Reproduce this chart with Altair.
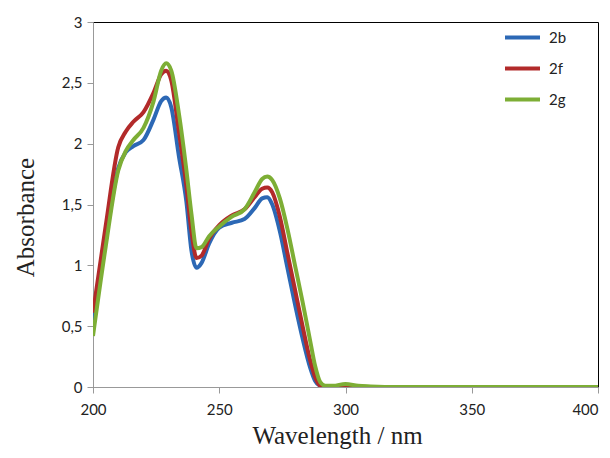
import altair as alt
import pandas as pd

wavelength = [200, 205, 210, 213, 216, 220, 224, 227, 229, 231, 234, 237, 239, 241, 243, 246, 250, 255, 260, 264, 267, 269, 271, 274, 277, 280, 283, 286, 288, 290, 292, 295, 300, 305, 310, 320, 350, 400]

abs_2b = [0.55, 1.20, 1.80, 1.93, 1.98, 2.03, 2.20, 2.35, 2.38, 2.30, 1.90, 1.52, 1.12, 0.98, 1.02, 1.18, 1.31, 1.35, 1.38, 1.47, 1.55, 1.56, 1.50, 1.28, 0.98, 0.68, 0.40, 0.16, 0.05, 0.01, 0.0, 0.0, 0.01, 0.0, 0.0, 0.0, 0.0, 0.0]
abs_2f = [0.61, 1.32, 1.97, 2.10, 2.18, 2.26, 2.42, 2.57, 2.60, 2.52, 2.10, 1.65, 1.28, 1.06, 1.08, 1.22, 1.33, 1.41, 1.46, 1.56, 1.63, 1.64, 1.60, 1.40, 1.10, 0.80, 0.50, 0.22, 0.08, 0.01, 0.0, 0.0, 0.01, 0.005, 0.0, 0.0, 0.0, 0.0]
abs_2g = [0.42, 1.15, 1.78, 1.94, 2.03, 2.13, 2.35, 2.60, 2.66, 2.60, 2.25, 1.78, 1.42, 1.14, 1.15, 1.24, 1.32, 1.40, 1.46, 1.60, 1.71, 1.73, 1.70, 1.55, 1.30, 1.00, 0.70, 0.38, 0.17, 0.04, 0.01, 0.01, 0.025, 0.01, 0.005, 0.0, 0.0, 0.0]

series = ["2b", "2f", "2g"]
colors = ["#2C68B5", "#B22A2A", "#7DAE35"]

rows = []
for name, vals in zip(series, [abs_2b, abs_2f, abs_2g]):
    for w, a in zip(wavelength, vals):
        rows.append({"Wavelength": w, "Absorbance": a, "Series": name})
df = pd.DataFrame(rows)

chart = alt.Chart(df).mark_line(strokeWidth=4, interpolate="monotone", clip=True).encode(
    x=alt.X("Wavelength:Q",
            scale=alt.Scale(domain=[200, 400], nice=False),
            axis=alt.Axis(values=[200, 250, 300, 350, 400], title="Wavelength / nm",
                          grid=False, domainColor="#999999", tickColor="#999999",
                          tickSize=6, labelFont="Lato", labelFontSize=15, labelColor="#222222",
                          labelPadding=9, labelFlush=False,
                          labelAlign={"expr": "datum.value == 400 ? 'right' : 'center'"},
                          titleFont="Liberation Serif", titleFontSize=25,
                          titleFontWeight="normal", titleColor="#222222",
                          titleX=244, titleY=56, titleBaseline="alphabetic")),
    y=alt.Y("Absorbance:Q",
            scale=alt.Scale(domain=[0, 3], nice=False),
            axis=alt.Axis(values=[0, 0.5, 1, 1.5, 2, 2.5, 3], title="Absorbance",
                          format=".1~f", labelExpr="replace(datum.label, '.', ',')",
                          grid=False, domainColor="#999999", tickColor="#999999",
                          tickSize=6, labelFont="Lato", labelFontSize=15, labelColor="#222222",
                          labelPadding=5, titleFont="Liberation Serif", titleFontSize=25,
                          titleFontWeight="normal", titleColor="#222222",
                          titleX=-60, titleY=195, titleBaseline="alphabetic")),
    color=alt.Color("Series:N", scale=alt.Scale(domain=series, range=colors),
                    legend=alt.Legend(title=None, orient="none", legendX=410, legendY=-4,
                                      symbolType="stroke", symbolSize=1225, symbolStrokeWidth=4,
                                      labelFont="Lato", labelFontSize=15, labelColor="#222222",
                                      labelOffset=7, rowPadding=3)),
).properties(
    width=505, height=365,
    autosize=alt.AutoSizeParams(type="none"),
    padding={"left": 85, "top": 14, "right": 4, "bottom": 63},
).configure_view(stroke="#000000", strokeWidth=1)

chart.save("out.html", embed_options={"renderer": "svg", "actions": False})
